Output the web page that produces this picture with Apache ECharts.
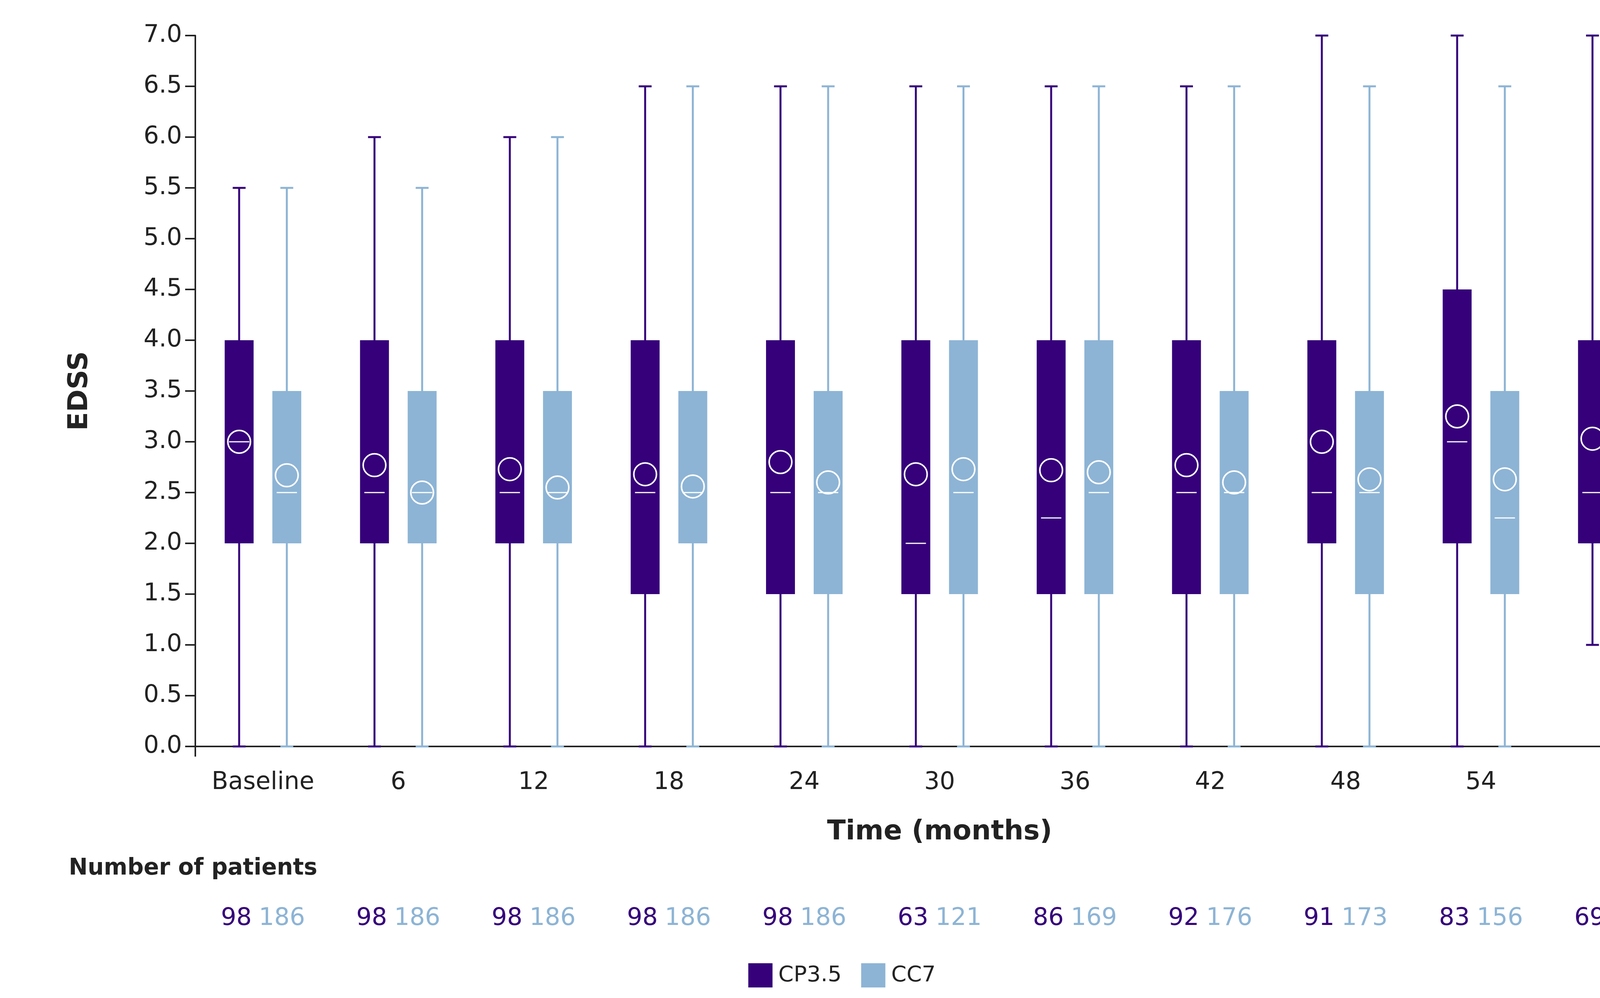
<!DOCTYPE html>
<html>
<head>
<meta charset="utf-8">
<script src="https://cdn.jsdelivr.net/npm/echarts@6/dist/echarts.min.js"></script>
<style>html,body{margin:0;padding:0;background:#fff}#main{width:4311px;height:2555px}</style>
</head>
<body>
<div id="main"></div>
<script>
var categories = ['Baseline', '6', '12', '18', '24', '30', '36', '42', '48', '54', '60'];
// [min, q1, median, q3, max, mean]
var cpStats = [
  [0, 2, 3, 4, 5.5, 3.0],
  [0, 2, 2.5, 4, 6, 2.77],
  [0, 2, 2.5, 4, 6, 2.73],
  [0, 1.5, 2.5, 4, 6.5, 2.68],
  [0, 1.5, 2.5, 4, 6.5, 2.8],
  [0, 1.5, 2, 4, 6.5, 2.68],
  [0, 1.5, 2.25, 4, 6.5, 2.72],
  [0, 1.5, 2.5, 4, 6.5, 2.77],
  [0, 2, 2.5, 4, 7, 3.0],
  [0, 2, 3, 4.5, 7, 3.25],
  [1, 2, 2.5, 4, 7, 3.03]
];
var ccStats = [
  [0, 2, 2.5, 3.5, 5.5, 2.67],
  [0, 2, 2.5, 3.5, 5.5, 2.5],
  [0, 2, 2.5, 3.5, 6, 2.55],
  [0, 2, 2.5, 3.5, 6.5, 2.56],
  [0, 1.5, 2.5, 3.5, 6.5, 2.6],
  [0, 1.5, 2.5, 4, 6.5, 2.73],
  [0, 1.5, 2.5, 4, 6.5, 2.7],
  [0, 1.5, 2.5, 3.5, 6.5, 2.6],
  [0, 1.5, 2.5, 3.5, 6.5, 2.63],
  [0, 1.5, 2.25, 3.5, 6.5, 2.63],
  [0, 1.5, 2, 3.5, 6.5, 2.62]
];
var cpCounts = [98, 98, 98, 98, 98, 63, 86, 92, 91, 83, 69];
var ccCounts = [186, 186, 186, 186, 186, 121, 169, 176, 173, 156, 126];

var cpColor = '#35007a';
var ccColor = '#8db4d5';
var font = 'DejaVu Sans';

function makeRender(color, offset) {
  return function (params, api) {
    var i = api.value(0);
    var c = function (v) { return api.coord([i, v]); };
    var pMin = c(api.value(1)), pQ1 = c(api.value(2)), pMed = c(api.value(3));
    var pQ3 = c(api.value(4)), pMax = c(api.value(5)), pMean = c(api.value(6));
    var x = pMin[0] + offset;
    var bw = 74, cw = 33, mw = 52;
    var ls = { stroke: color, lineWidth: 5 };
    return {
      type: 'group',
      children: [
        { type: 'line', shape: { x1: x, y1: pMax[1], x2: x, y2: pMin[1] }, style: ls },
        { type: 'line', shape: { x1: x - cw / 2, y1: pMax[1], x2: x + cw / 2, y2: pMax[1] }, style: ls },
        { type: 'line', shape: { x1: x - cw / 2, y1: pMin[1], x2: x + cw / 2, y2: pMin[1] }, style: ls },
        { type: 'rect', shape: { x: x - bw / 2, y: pQ3[1], width: bw, height: pQ1[1] - pQ3[1] }, style: { fill: color } },
        { type: 'line', shape: { x1: x - mw / 2, y1: pMed[1], x2: x + mw / 2, y2: pMed[1] }, style: { stroke: '#fff', lineWidth: 3 } },
        { type: 'circle', shape: { cx: x, cy: pMean[1], r: 29 }, style: { fill: 'none', stroke: '#fff', lineWidth: 4 } }
      ]
    };
  };
}

function toData(stats) {
  return stats.map(function (s, i) { return [i].concat(s); });
}

var countLabels = categories.map(function (c, i) {
  return '{a|' + cpCounts[i] + '}{b|' + ccCounts[i] + '}';
});

var myChart = echarts.init(document.getElementById('main'));
var option = {
  backgroundColor: '#fff',
  textStyle: { fontFamily: font },
  grid: { left: 500, right: -30, top: 91, bottom: 644 },
  legend: {
    bottom: 22,
    left: 'center',
    itemWidth: 62, itemHeight: 62, itemGap: 50,
    icon: 'rect',
    textStyle: { fontSize: 56, color: '#222', fontFamily: font, padding: [0, 0, 0, 10] },
    data: ['CP3.5', 'CC7']
  },
  xAxis: [{
    type: 'category',
    data: categories,
    name: 'Time (months)',
    nameLocation: 'middle',
    nameGap: 185,
    nameTextStyle: { fontSize: 70, fontWeight: 'bold', color: '#222' },
    axisLine: { lineStyle: { color: '#222', width: 4 } },
    axisTick: { show: true, length: 26, interval: function (idx) { return idx === 0; }, lineStyle: { color: '#222', width: 4 } },
    axisLabel: { fontSize: 62, color: '#222', margin: 62 }
  }, {
    type: 'category',
    data: countLabels,
    position: 'bottom',
    offset: 410,
    axisLine: { show: false },
    axisTick: { show: false },
    axisLabel: {
      margin: 0,
      rich: {
        a: { fontSize: 62, color: cpColor, fontFamily: font },
        b: { fontSize: 62, color: ccColor, fontFamily: font, padding: [0, 0, 0, 18] }
      }
    }
  }],
  yAxis: {
    type: 'value',
    min: 0, max: 7, interval: 0.5,
    name: 'EDSS',
    nameLocation: 'middle',
    nameGap: 260,
    nameTextStyle: { fontSize: 70, fontWeight: 'bold', color: '#222' },
    axisLine: { show: true, lineStyle: { color: '#222', width: 4 } },
    axisTick: { show: true, length: 26, lineStyle: { color: '#222', width: 4 } },
    splitLine: { show: false },
    axisLabel: { fontSize: 62, color: '#222', margin: 34, formatter: function (v) { return v.toFixed(1); } }
  },
  graphic: [{
    type: 'text', left: 176, top: 2195,
    style: { text: 'Number of patients', fontSize: 58, fontWeight: 'bold', fill: '#222', fontFamily: font }
  }],
  series: [{
    name: 'CP3.5',
    type: 'custom',
    itemStyle: { color: cpColor },
    renderItem: makeRender(cpColor, -61),
    encode: { x: 0, y: [1, 2, 3, 4, 5, 6] },
    data: toData(cpStats),
    clip: false
  }, {
    name: 'CC7',
    type: 'custom',
    itemStyle: { color: ccColor },
    renderItem: makeRender(ccColor, 61),
    encode: { x: 0, y: [1, 2, 3, 4, 5, 6] },
    data: toData(ccStats),
    clip: false
  }]
};
myChart.setOption(option);
</script>
</body>
</html>
